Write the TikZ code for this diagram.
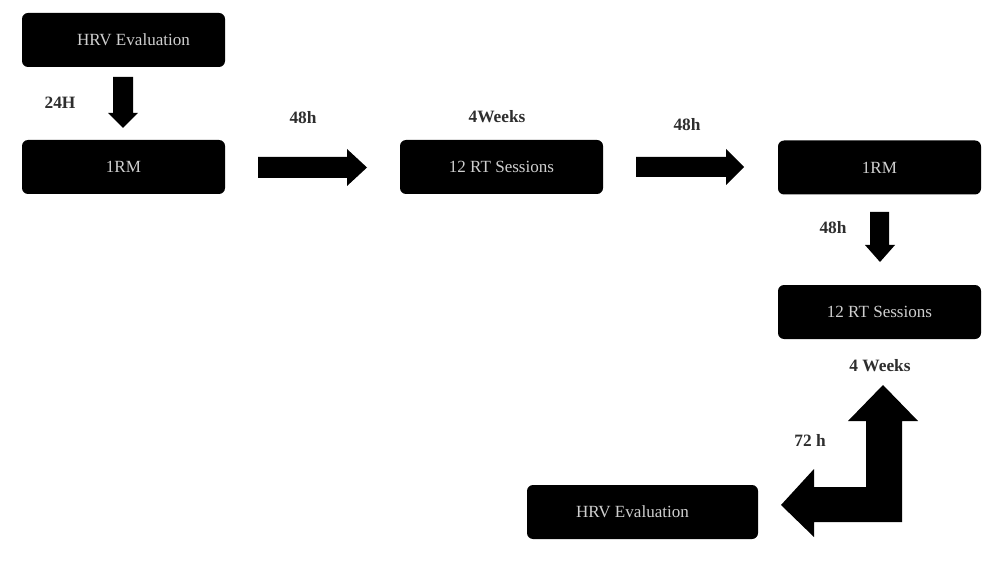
\documentclass[tikz,border=0pt]{standalone}
\usepackage{fontspec}
\setmainfont{Liberation Serif}
\definecolor{boxtext}{HTML}{CFCFCF}
\definecolor{labeltext}{HTML}{2E2E2E}
\begin{document}
\begin{tikzpicture}[x=0.75pt,y=-0.75pt,
  box/.style={fill=black, rounded corners=4.5pt, minimum width=152.25pt, minimum height=40.5pt,
    inner sep=0pt, text=boxtext, font=\fontsize{12.8}{14}\selectfont},
  widebox/.style={box, minimum width=173.25pt},
  lbl/.style={text=labeltext, font=\fontsize{13}{15}\selectfont\bfseries, inner sep=0pt},
  blockarrow/.style={fill=black}]
\useasboundingbox (0,0) rectangle (1000,563);
\fill[white] (0,0) rectangle (1000,563);

% boxes
\node[box] (hrv1) at (123.5,40) {\hspace*{15pt}HRV Evaluation};
\node[box] (rm1) at (123.5,167) {1RM};
\node[box] (rt1) at (501.5,167) {12 RT Sessions};
\node[box] (rm2) at (879.5,167.5) {1RM};
\node[box] (rt2) at (879.5,312) {12 RT Sessions};
\node[widebox] (hrv2) at (642.5,512) {HRV Evaluation\hspace*{15pt}};

% labels
\node[lbl] (l24) at (60,103) {24H};
\node[lbl] (l48a) at (303,118) {48h};
\node[lbl] (l4wa) at (497,117) {4Weeks};
\node[lbl] (l48b) at (687,125) {48h};
\node[lbl] (l48c) at (833,228) {48h};
\node[lbl] (l4wb) at (880,366) {4 Weeks};
\node[lbl] (l72) at (810,440) {72 h};

% block arrows
\fill[blockarrow] (113,77) -- (133,77) -- (133,113) -- (138,113) -- (123,128) -- (108,113) -- (113,113) -- cycle;
\fill[blockarrow] (258,157) -- (347,157) -- (347,149) -- (367,167.5) -- (347,186) -- (347,178) -- (258,178) -- cycle;
\fill[blockarrow] (636,157) -- (726,157) -- (726,149) -- (744,167) -- (726,185) -- (726,177) -- (636,177) -- cycle;
\fill[blockarrow] (870,212) -- (889,212) -- (889,245) -- (895,245) -- (880,262) -- (865,245) -- (870,245) -- cycle;
\fill[blockarrow] (883,385) -- (918,421) -- (902,421) -- (902,522) -- (814,522) -- (814,537) -- (781,505)
  -- (814,469) -- (814,487) -- (866,487) -- (866,421) -- (848,421) -- cycle;
\end{tikzpicture}
\end{document}
